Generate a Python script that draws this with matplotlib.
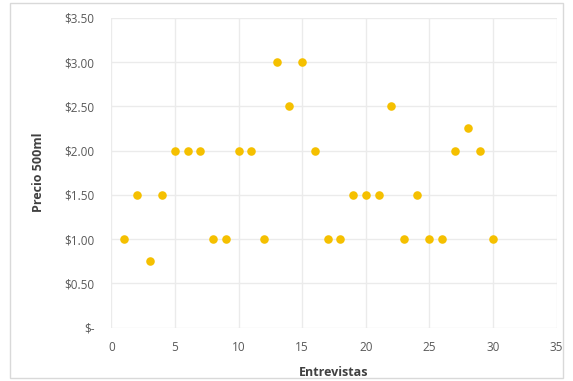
import numpy as np
import matplotlib
matplotlib.use("Agg")
from matplotlib import pyplot as plt
from matplotlib.patches import Rectangle

# entrevista number and price reported for a 500ml bottle
entrevistas = [1, 2, 3, 4, 5, 6, 7, 8, 9, 10, 11, 12, 13, 14, 15,
               16, 17, 18, 19, 20, 21, 22, 23, 24, 25, 26, 27, 28, 29, 30]
precios = [1.00, 1.50, 0.75, 1.50, 2.00, 2.00, 2.00, 1.00, 1.00, 2.00,
           2.00, 1.00, 3.00, 2.50, 3.00, 2.00, 1.00, 1.00, 1.50, 1.50,
           1.50, 2.50, 1.00, 1.50, 1.00, 1.00, 2.00, 2.25, 2.00, 1.00]

x_ticks = [0, 5, 10, 15, 20, 25, 30, 35]
y_ticks = [0, 0.5, 1.0, 1.5, 2.0, 2.5, 3.0, 3.5]
y_labels = ["$-", "$0.50", "$1.00", "$1.50", "$2.00", "$2.50", "$3.00", "$3.50"]

plt.rcParams['font.family'] = ['Open Sans', 'DejaVu Sans']

fig = plt.figure(figsize=(5.73, 3.81), dpi=100)
fig.patches.append(Rectangle((10 / 573, 3 / 381), 553 / 573, 375 / 381,
                             transform=fig.transFigure, fill=False,
                             edgecolor="#D9D9D9", linewidth=1))

ax = fig.add_axes([0.1944, 0.1404, 0.777, 0.813])
ax.scatter(entrevistas, precios, s=38, color="#F5C000", zorder=3, linewidths=0)

ax.set_xlim(0, 35)
ax.set_ylim(0, 3.5)
ax.set_xticks(x_ticks)
ax.set_yticks(y_ticks)
ax.set_yticklabels(y_labels)
ax.grid(True, color="#EBEBEB", linewidth=1)
ax.set_axisbelow(True)
for s in ax.spines.values():
    s.set_visible(False)
ax.tick_params(length=0, labelsize=8.5, labelcolor="#595959")
ax.tick_params(axis="x", pad=10)
ax.tick_params(axis="y", pad=12)

ax.set_xlabel("Entrevistas", fontsize=9, fontweight="bold", color="#404040", labelpad=8)
ax.set_ylabel("Precio 500ml", fontsize=9, fontweight="bold", color="#404040", labelpad=14)

fig.savefig("out.png", dpi=100)
